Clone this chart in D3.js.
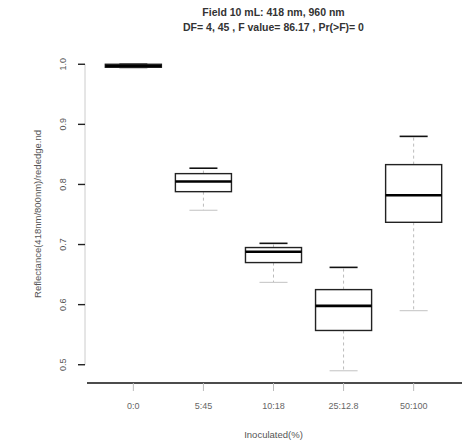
<!DOCTYPE html>
<html>
<head>
<meta charset="utf-8">
<script src="https://cdn.jsdelivr.net/npm/d3@7"></script>
<style>
  html, body { margin: 0; padding: 0; background: #fff; }
  svg { display: block; font-family: "Liberation Sans", Arial, sans-serif; }
</style>
</head>
<body>
<svg id="chart" width="466" height="446"></svg>
<script>
// Treatment groups along the x axis
const categories = ["0:0", "5:45", "10:18", "25:12.8", "50:100"];
// Five-number summaries per group (lower whisker, Q1, median, Q3, upper whisker)
const lowerWhisker = [0.993, 0.757, 0.637, 0.490, 0.590];
const q1           = [0.995, 0.788, 0.670, 0.557, 0.737];
const median       = [0.997, 0.805, 0.688, 0.598, 0.782];
const q3           = [1.000, 0.818, 0.695, 0.625, 0.833];
const upperWhisker = [1.000, 0.827, 0.702, 0.662, 0.880];
// Y axis tick values
const yTicks = [0.5, 0.6, 0.7, 0.8, 0.9, 1.0];

const titleLines = ["Field 10 mL: 418 nm, 960 nm",
                    "DF= 4, 45 , F value= 86.17 , Pr(>F)= 0"];
const xTitle = "Inoculated(%)";
const yTitle = "Reflectance(418nm/800nm)/rededge.nd";

const svg = d3.select("#chart");
const plot = { left: 85, right: 462, top: 45, bottom: 383 };

// R-style ylim: data range padded by 4%
const lo = d3.min(lowerWhisker), hi = d3.max(upperWhisker);
const pad = (hi - lo) * 0.04;
const y = d3.scaleLinear().domain([lo - pad, hi + pad]).range([plot.bottom, 52]);

const x = d3.scaleBand()
  .domain(categories)
  .range([plot.left, plot.right])
  .paddingInner(0)
  .paddingOuter(0.19);

const boxW = x.bandwidth() * 0.8;
const capW = boxW * 0.5;

const rows = categories.map((c, i) => ({
  c, lw: lowerWhisker[i], q1: q1[i], med: median[i], q3: q3[i], uw: upperWhisker[i]
}));

const g = svg.append("g");

const box = g.selectAll("g.box").data(rows).join("g").attr("class", "box")
  .attr("transform", d => `translate(${x(d.c) + x.bandwidth() / 2},0)`);

// dashed whiskers
box.append("line").attr("x1", 0).attr("x2", 0)
  .attr("y1", d => y(d.q3)).attr("y2", d => y(d.uw))
  .attr("stroke", "#bbb").attr("stroke-width", 1).attr("stroke-dasharray", "3,3");
box.append("line").attr("x1", 0).attr("x2", 0)
  .attr("y1", d => y(d.q1)).attr("y2", d => y(d.lw))
  .attr("stroke", "#bbb").attr("stroke-width", 1).attr("stroke-dasharray", "3,3");
// caps
box.append("line").attr("x1", -capW / 2).attr("x2", capW / 2)
  .attr("y1", d => y(d.uw)).attr("y2", d => y(d.uw))
  .attr("stroke", "#111").attr("stroke-width", 1.6);
box.append("line").attr("x1", -capW / 2).attr("x2", capW / 2)
  .attr("y1", d => y(d.lw)).attr("y2", d => y(d.lw))
  .attr("stroke", "#ccc").attr("stroke-width", 1.2);
// box
box.append("rect").attr("x", -boxW / 2).attr("width", boxW)
  .attr("y", d => y(d.q3)).attr("height", d => Math.max(0, y(d.q1) - y(d.q3)))
  .attr("fill", "none").attr("stroke", "#222").attr("stroke-width", 1.4);
// median
box.append("line").attr("x1", -boxW / 2).attr("x2", boxW / 2)
  .attr("y1", d => y(d.med)).attr("y2", d => y(d.med))
  .attr("stroke", "#000").attr("stroke-width", 2.6);

// y axis (R style: ticks outward, rotated labels)
const yAxis = g.append("g").attr("transform", `translate(${plot.left},0)`);
yAxis.append("line").attr("x1", 0).attr("x2", 0)
  .attr("y1", y(d3.max(yTicks))).attr("y2", y(d3.min(yTicks)))
  .attr("stroke", "#ccc");
yAxis.selectAll("line.tick").data(yTicks).join("line").attr("class", "tick")
  .attr("x1", -7).attr("x2", 0).attr("y1", d => y(d)).attr("y2", d => y(d))
  .attr("stroke", "#222").attr("stroke-width", 1.4);
yAxis.selectAll("text").data(yTicks).join("text")
  .attr("transform", d => `translate(-19,${y(d)}) rotate(-90)`)
  .attr("text-anchor", "middle")
  .attr("font-size", 9).attr("fill", "#555")
  .text(d => d3.format(".1f")(d));

// x axis
const xAxis = g.append("g").attr("transform", `translate(0,${plot.bottom})`);
xAxis.append("line").attr("x1", plot.left + 2).attr("x2", plot.right)
  .attr("stroke", "#111").attr("stroke-width", 1.6);
xAxis.selectAll("line.tick").data(categories).join("line").attr("class", "tick")
  .attr("x1", d => x(d) + x.bandwidth() / 2).attr("x2", d => x(d) + x.bandwidth() / 2)
  .attr("y1", 0).attr("y2", 8).attr("stroke", "#bbb");
xAxis.selectAll("text").data(categories).join("text")
  .attr("x", d => x(d) + x.bandwidth() / 2).attr("y", 26)
  .attr("text-anchor", "middle").attr("font-size", 9).attr("fill", "#666")
  .text(d => d);

// titles
svg.selectAll("text.title").data(titleLines).join("text").attr("class", "title")
  .attr("x", (plot.left + plot.right) / 2).attr("y", (d, i) => 16 + i * 15)
  .attr("text-anchor", "middle").attr("font-size", 10.5).attr("font-weight", "bold")
  .attr("fill", "#333").text(d => d);

svg.append("text")
  .attr("x", (plot.left + plot.right) / 2).attr("y", 438)
  .attr("text-anchor", "middle").attr("font-size", 9.5).attr("fill", "#555")
  .text(xTitle);

svg.append("text")
  .attr("transform", `translate(41,${(plot.top + plot.bottom) / 2}) rotate(-90)`)
  .attr("text-anchor", "middle").attr("font-size", 9.5).attr("fill", "#555")
  .text(yTitle);
</script>
</body>
</html>
